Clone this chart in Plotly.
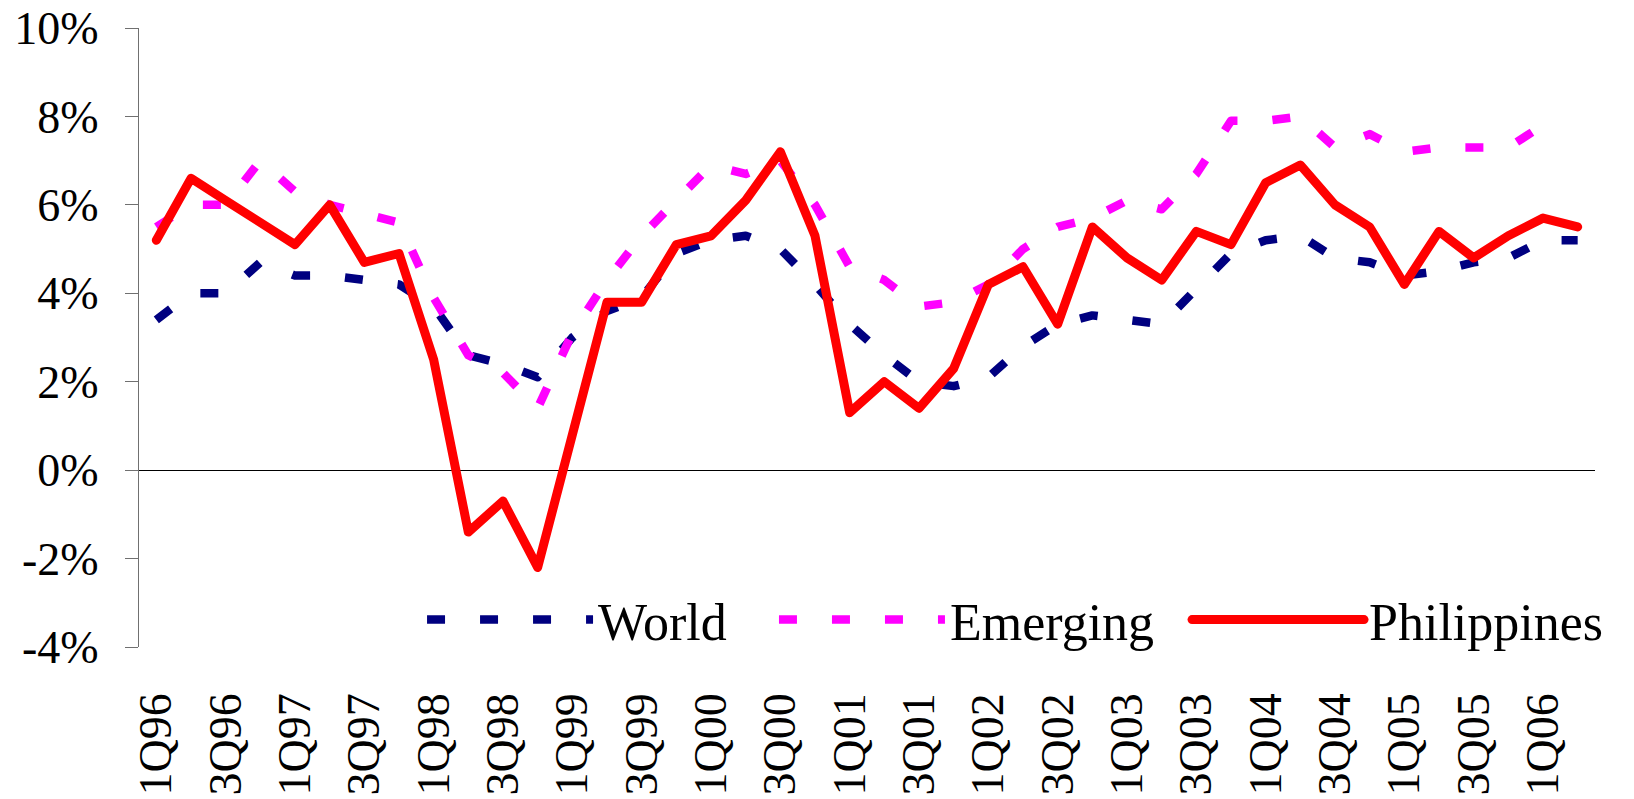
import plotly.graph_objects as go

categories = ["1Q96", "2Q96", "3Q96", "4Q96", "1Q97", "2Q97", "3Q97", "4Q97",
              "1Q98", "2Q98", "3Q98", "4Q98", "1Q99", "2Q99", "3Q99", "4Q99",
              "1Q00", "2Q00", "3Q00", "4Q00", "1Q01", "2Q01", "3Q01", "4Q01",
              "1Q02", "2Q02", "3Q02", "4Q02", "1Q03", "2Q03", "3Q03", "4Q03",
              "1Q04", "2Q04", "3Q04", "4Q04", "1Q05", "2Q05", "3Q05", "4Q05",
              "1Q06", "2Q06"]

world = [3.4, 4.0, 4.0, 4.7, 4.4, 4.4, 4.3, 4.2, 3.7, 2.6, 2.4, 2.1,
         3.0, 3.6, 3.9, 4.9, 5.2, 5.3, 5.0, 4.2, 3.3, 2.6, 2.0, 1.9,
         2.1, 2.8, 3.3, 3.5, 3.4, 3.3, 4.1, 4.9, 5.2, 5.3, 4.8, 4.7,
         4.4, 4.5, 4.7, 4.8, 5.2, 5.2]

emerging = [5.5, 6.0, 6.0, 7.0, 6.3, 6.0, 5.8, 5.6, 3.9, 2.6, 2.2, 1.4,
            3.1, 4.3, 5.3, 6.1, 6.9, 6.7, 7.0, 6.0, 4.6, 4.3, 3.7, 3.8,
            4.2, 5.0, 5.5, 5.7, 6.1, 5.9, 6.7, 7.9, 7.9, 8.0, 7.3, 7.6,
            7.2, 7.3, 7.3, 7.3, 7.8, None]

philippines = [5.2, 6.6, 6.1, 5.6, 5.1, 6.0, 4.7, 4.9, 2.5, -1.4, -0.7, -2.2,
               0.8, 3.8, 3.8, 5.1, 5.3, 6.1, 7.2, 5.3, 1.3, 2.0, 1.4, 2.3,
               4.2, 4.6, 3.3, 5.5, 4.8, 4.3, 5.4, 5.1, 6.5, 6.9, 6.0, 5.5,
               4.2, 5.4, 4.8, 5.3, 5.7, 5.5]

x_tick_labels = categories[::2]
y_tick_values = [-4, -2, 0, 2, 4, 6, 8, 10]
y_tick_labels = ["-4%", "-2%", "0%", "2%", "4%", "6%", "8%", "10%"]

FONT = "Liberation Serif, Times New Roman, serif"
DASH = "18px,35px"

fig = go.Figure()
fig.add_trace(go.Scatter(x=categories, y=world, name="World", mode="lines",
                         line=dict(color="#000080", width=8.5, dash=DASH),
                         legend="legend", showlegend=True))
fig.add_trace(go.Scatter(x=categories, y=emerging, name="Emerging", mode="lines",
                         line=dict(color="#FF00FF", width=8.5, dash=DASH),
                         legend="legend2", showlegend=True))
fig.add_trace(go.Scatter(x=categories, y=philippines, name="Philippines", mode="lines",
                         line=dict(color="#FF0000", width=9),
                         legend="legend3", showlegend=True))

legend_common = dict(orientation="h", yanchor="middle", y=0.044, xanchor="left",
                     bgcolor="rgba(0,0,0,0)", borderwidth=0,
                     font=dict(family=FONT, size=52, color="black"))

fig.update_layout(
    width=1634, height=799,
    showlegend=True,
    margin=dict(l=139, r=39, t=28, b=152, autoexpand=False),
    paper_bgcolor="white", plot_bgcolor="white",
    font=dict(family=FONT, size=46, color="black"),
    legend=dict(x=0.1944, itemwidth=166, **legend_common),
    legend2=dict(x=0.4361, itemwidth=166, **legend_common),
    legend3=dict(x=0.7198, itemwidth=172, **legend_common),
    xaxis=dict(type="category", range=[-0.5, 41.5], automargin=False,
               tickmode="array", tickvals=x_tick_labels, ticktext=x_tick_labels,
               tickangle=-90, ticks="", showgrid=False, showline=False,
               zeroline=False, ticklabelstandoff=36,
               tickfont=dict(family=FONT, size=46, color="black")),
    yaxis=dict(range=[-4, 10], automargin=False, tickmode="array",
               tickvals=y_tick_values,
               ticktext=y_tick_labels, ticks="outside", ticklen=13,
               tickcolor="#707070", tickwidth=1.3, showline=True,
               linecolor="#707070", linewidth=1.3, showgrid=False,
               zeroline=True, zerolinecolor="black", zerolinewidth=1.3,
               ticklabelstandoff=17,
               tickfont=dict(family=FONT, size=46, color="black")),
)

post = """
document.body.style.margin = '0';
document.body.style.padding = '0';
var s = document.createElement('style');
s.innerHTML = 'html,body{margin:0;padding:0;overflow:hidden;} .modebar-container{display:none !important;} path.js-line{stroke-linejoin:round;} path.js-line[style*="255, 0, 0"]{stroke-linecap:round;}';
document.head.appendChild(s);
"""

fig.write_html("out.html", post_script=post, config={"displayModeBar": False})
